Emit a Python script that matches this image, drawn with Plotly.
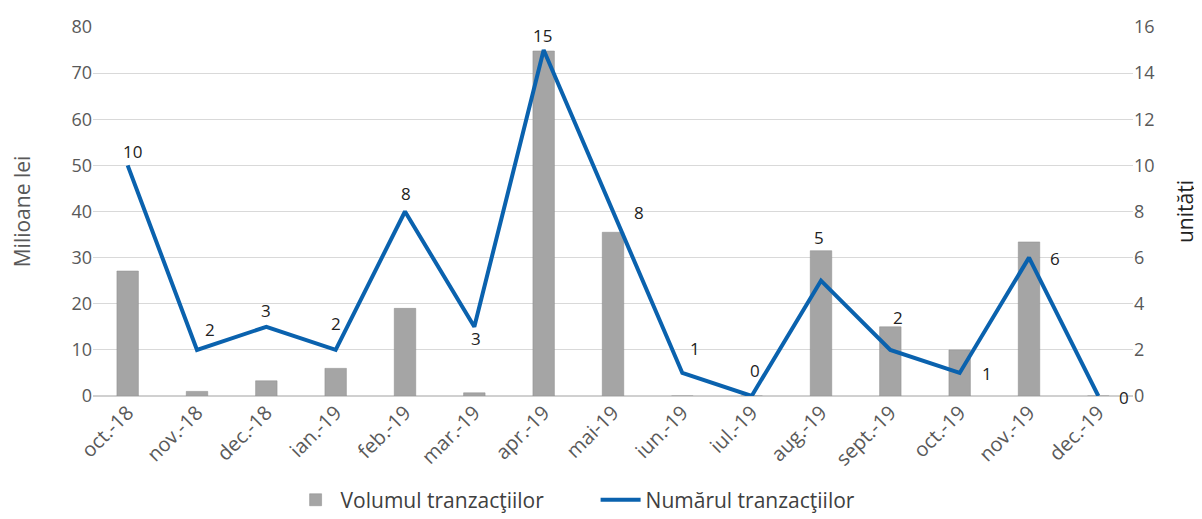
import plotly.graph_objects as go

categories = ["oct.-18", "nov.-18", "dec.-18", "ian.-19", "feb.-19", "mar.-19", "apr.-19",
              "mai-19", "iun.-19", "iul.-19", "aug.-19", "sept.-19", "oct.-19", "nov.-19", "dec.-19"]
volum = [27.1, 1.0, 3.3, 6.0, 19.0, 0.7, 74.8, 35.5, 0, 0, 31.5, 15.0, 10.0, 33.4, 0]
numar = [10, 2, 3, 2, 8, 3, 15, 8, 1, 0, 5, 2, 1, 6, 0]

# label offsets in pixels (style only)
lab_dx = [5, 13, 0, 0, 1, 2, -1, 26, 13, 3, -2, 8, 27, 26, 26]
lab_dy = [14, 20, 16, 26, 18, -12, 15, -1, 24, 26, 43, 32, -1, -1, -1]

font_fam = "Open Sans, Liberation Sans, sans-serif"
grey = "#595959"

fig = go.Figure()
fig.add_trace(go.Bar(
    x=categories, y=volum, name="Volumul tranzacţiilor",
    marker=dict(color="#a5a5a5", line=dict(color="#8c8c8c", width=0.5)),
    width=0.31, yaxis="y"))
fig.add_trace(go.Scatter(
    x=categories, y=numar, name="Numărul tranzacţiilor", mode="lines",
    line=dict(color="#0a62ae", width=4),
    yaxis="y2"))

annotations = []
for c, v, dx, dy in zip(categories, numar, lab_dx, lab_dy):
    annotations.append(dict(x=c, y=v, xref="x", yref="y2", text=str(v), showarrow=False,
                            xshift=dx, yshift=dy,
                            font=dict(size=17, color="#222222", family=font_fam)))

fig.update_layout(
    width=1194, height=511,
    margin=dict(l=85, r=69, t=19, b=123, autoexpand=False),
    paper_bgcolor="white", plot_bgcolor="white",
    font=dict(family=font_fam, size=15, color=grey),
    showlegend=True,
    legend=dict(orientation="h", x=0.19, xanchor="left", yref="container", y=0.037,
                yanchor="middle", font=dict(size=21, color="#404040"), traceorder="normal",
                itemwidth=40, entrywidth=250),
    annotations=annotations,
    xaxis=dict(tickangle=-45, showgrid=False, showline=False, ticks="", automargin=False,
               tickfont=dict(size=20, color=grey)),
    yaxis=dict(range=[0, 80], dtick=10, showgrid=True, gridcolor="#d9d9d9",
               zeroline=True, zerolinecolor="#d0d0d0", ticks="", automargin=False,
               title=dict(text="Milioane lei", font=dict(size=21, color=grey), standoff=36),
               tickfont=dict(size=18, color=grey)),
    yaxis2=dict(range=[0, 16], dtick=2, overlaying="y", side="right", showgrid=False,
                zeroline=False, ticks="", automargin=False,
                title=dict(text="unităţi", font=dict(size=21, color="#222222"), standoff=24),
                tickfont=dict(size=18, color=grey)),
)

fig.write_html("out.html")
